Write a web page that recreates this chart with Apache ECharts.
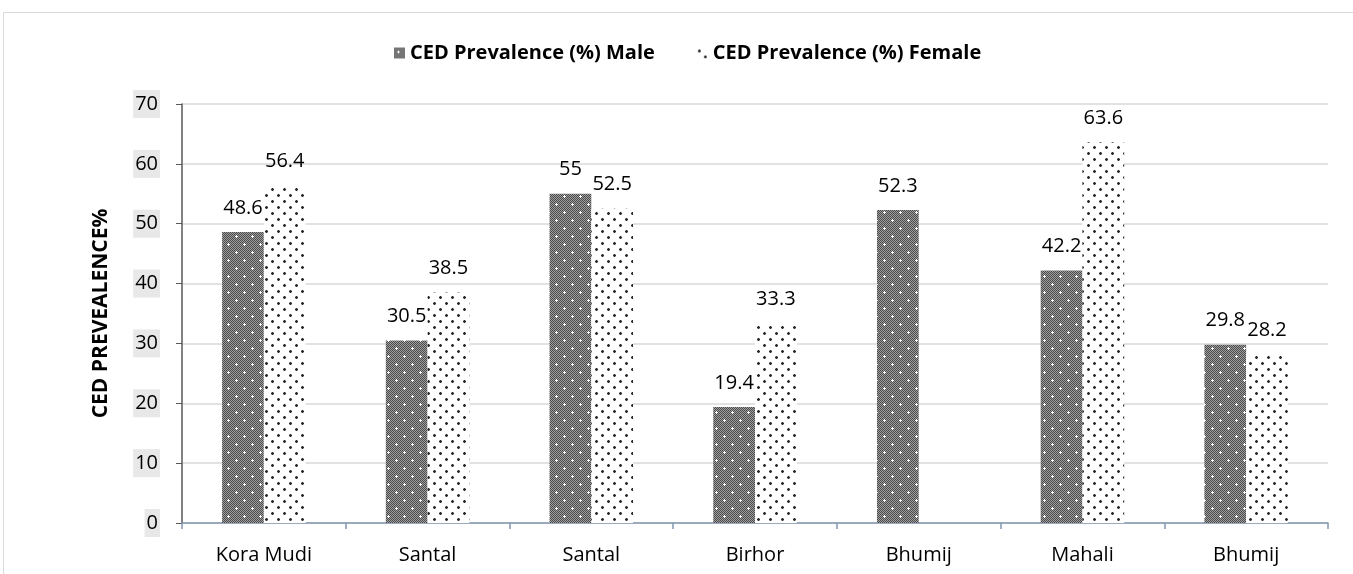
<!DOCTYPE html>
<html>
<head>
<meta charset="utf-8">
<script src="https://cdn.jsdelivr.net/npm/echarts@6/dist/echarts.min.js"></script>
<style>
  html, body { margin: 0; padding: 0; background: #fff; }
  #chart { width: 1353px; height: 574px; }
</style>
</head>
<body>
<div id="chart"></div>
<script>
// data
var categories = ['Kora Mudi', 'Santal', 'Santal', 'Birhor', 'Bhumij', 'Mahali', 'Bhumij'];
var maleValues = [48.6, 30.5, 55, 19.4, 52.3, 42.2, 29.8];
var femaleValues = [56.4, 38.5, 52.5, 33.3, null, 63.6, 28.2];
var yTicks = [0, 10, 20, 30, 40, 50, 60, 70];

// fill patterns like the excel ones
function malePattern() {
  var c = document.createElement('canvas');
  c.width = 16; c.height = 16;
  var ctx = c.getContext('2d');
  for (var y = 0; y < 16; y++) {
    for (var x = 0; x < 16; x++) {
      ctx.fillStyle = (x + y) % 2 === 0 ? '#4a4a4a' : '#a0a0a0';
      ctx.fillRect(x, y, 1, 1);
    }
  }
  ctx.fillStyle = '#ffffff';
  [[4, 4], [12, 12]].forEach(function (p) {
    ctx.fillRect(p[0] - 1, p[1], 3, 1);
    ctx.fillRect(p[0], p[1] - 1, 1, 3);
  });
  return c;
}
function femalePattern() {
  var c = document.createElement('canvas');
  c.width = 12; c.height = 12;
  var ctx = c.getContext('2d');
  ctx.fillStyle = '#ffffff';
  ctx.fillRect(0, 0, 12, 12);
  [[2, 3], [8, 9]].forEach(function (p) {
    ctx.fillStyle = '#a8a8a8';
    ctx.fillRect(p[0] - 1, p[1] - 1, 3, 3);
    ctx.fillStyle = '#2a2a2a';
    ctx.fillRect(p[0], p[1] - 1, 1, 3);
    ctx.fillRect(p[0] - 1, p[1], 3, 1);
  });
  return c;
}

var fontFam = 'Open Sans';
var myChart = echarts.init(document.getElementById('chart'));
var option = {
  animation: false,
  textStyle: { fontFamily: fontFam },
  graphic: [{
    type: 'rect',
    shape: { x: 3.5, y: 12.5, width: 1400, height: 600 },
    style: { fill: 'none', stroke: '#d9d9d9', lineWidth: 1 },
    silent: true
  }],
  grid: { left: 182, right: 25, top: 104, bottom: 51 },
  legend: {
    top: 38,
    left: 389,
    itemWidth: 11,
    itemHeight: 11,
    itemGap: 42,
    icon: 'rect',
    textStyle: { fontSize: 20, fontWeight: 'bold', color: '#000', fontFamily: fontFam }
  },
  xAxis: {
    type: 'category',
    data: categories,
    axisLine: { lineStyle: { color: '#8497b0', width: 1.5 } },
    axisTick: { show: true, length: 6, lineStyle: { color: '#8497b0', width: 1.5 } },
    axisLabel: { fontSize: 20, color: '#000', margin: 22, fontFamily: fontFam },
    splitLine: { show: false }
  },
  yAxis: {
    type: 'value',
    min: 0,
    max: 70,
    interval: 10,
    name: 'CED PREVEALENCE%',
    nameLocation: 'middle',
    nameGap: 70,
    nameTextStyle: { fontSize: 21, fontWeight: 'bold', color: '#000', fontFamily: fontFam },
    axisLine: { show: true, lineStyle: { color: '#595959', width: 1.5 } },
    axisTick: { show: true, inside: false, length: 6, lineStyle: { color: '#595959' } },
    axisLabel: {
      fontSize: 20,
      color: '#000',
      margin: 22,
      backgroundColor: '#e8e8e8',
      padding: [4, 2, 4, 2],
      fontFamily: fontFam,
      formatter: function (v) { return yTicks.indexOf(v) >= 0 ? String(v) : ''; }
    },
    splitLine: { lineStyle: { color: '#d9d9d9', width: 1.5 } }
  },
  series: [
    {
      name: 'CED Prevalence (%) Male',
      type: 'bar',
      data: maleValues,
      barGap: '0%',
      barCategoryGap: '49%',
      itemStyle: { color: { image: malePattern(), repeat: 'repeat' } },
      label: { show: true, position: 'top', fontSize: 20, color: '#000', distance: 14, fontFamily: fontFam }
    },
    {
      name: 'CED Prevalence (%) Female',
      type: 'bar',
      data: femaleValues,
      itemStyle: { color: { image: femalePattern(), repeat: 'repeat' } },
      label: { show: true, position: 'top', fontSize: 20, color: '#000', distance: 14, fontFamily: fontFam }
    }
  ]
};
myChart.setOption(option);
</script>
</body>
</html>
